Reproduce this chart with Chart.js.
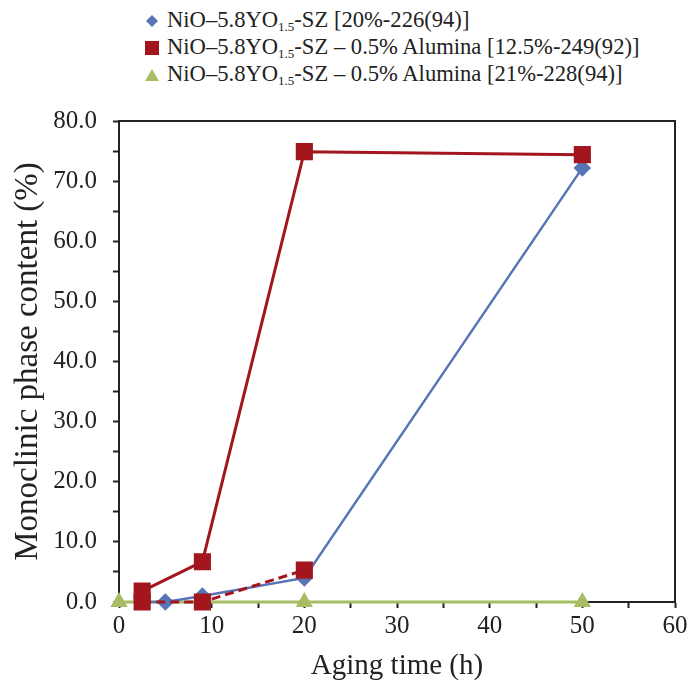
<!DOCTYPE html>
<html>
<head>
<meta charset="utf-8">
<script src="https://cdn.jsdelivr.net/npm/chart.js@4.4.1/dist/chart.umd.min.js"></script>
<style>
  body { margin: 0; background: #fff; font-family: "Liberation Serif", serif; }
  #legend { position: absolute; left: 145px; top: 6px; font-size: 22.6px; color: #222; z-index: 2; }
  #legend div { height: 27px; line-height: 27px; white-space: nowrap; }
  #legend svg { vertical-align: -1px; margin-right: 8px; }
  #legend sub { font-size: 13px; vertical-align: -4px; }
  #wrap { position: absolute; left: 0; top: 90px; }
</style>
</head>
<body>
<div id="legend"></div>
<div id="wrap"><canvas id="monoChart" width="692" height="594"></canvas></div>
<script>
// Aging time (h) and monoclinic content (%)
const blueTime = [2.5, 5, 9, 20, 50];
const blueContent = [0, 0, 1.0, 4.0, 72.2];

const redTime = [2.5, 9, 20, 50];
const redContent = [1.8, 6.7, 74.9, 74.4];

// second red sample (dashed, not in legend)
const redDashTime = [2.5, 9, 20];
const redDashContent = [0, 0, 5.3];

const greenTime = [0, 20, 50];
const greenContent = [0, 0, 0];

const legendLabels = [
  'NiO–5.8YO<sub>1.5</sub>-SZ [20%-226(94)]',
  'NiO–5.8YO<sub>1.5</sub>-SZ – 0.5% Alumina [12.5%-249(92)]',
  'NiO–5.8YO<sub>1.5</sub>-SZ – 0.5% Alumina [21%-228(94)]'
];

const blue = '#5874b8';
const red = '#a3161d';
const green = '#a6bd63';

function toPoints(xs, ys) {
  return xs.map((x, i) => ({ x: x, y: ys[i] }));
}

// legend with subscripts, built as html
const markers = [
  '<svg width="14" height="14"><polygon points="7,1 13,7 7,13 1,7" fill="' + blue + '"/></svg>',
  '<svg width="14" height="14"><rect x="0" y="0" width="14" height="14" fill="' + red + '"/></svg>',
  '<svg width="14" height="14"><polygon points="7,1 14,13 0,13" fill="' + green + '"/></svg>'
];
const legendEl = document.getElementById('legend');
legendLabels.forEach((txt, i) => {
  const row = document.createElement('div');
  row.innerHTML = markers[i] + txt;
  legendEl.appendChild(row);
});

// draws the box round the plot area
const frameBox = {
  id: 'frameBox',
  afterDraw(chart) {
    const a = chart.chartArea;
    const ctx = chart.ctx;
    ctx.save();
    ctx.strokeStyle = '#222';
    ctx.lineWidth = 2;
    ctx.beginPath();
    ctx.moveTo(a.left, a.top);
    ctx.lineTo(a.right, a.top);
    ctx.lineTo(a.right, a.bottom);
    ctx.stroke();
    ctx.restore();
  }
};

const serif = '"Liberation Serif", "Times New Roman", serif';

new Chart(document.getElementById('monoChart'), {
  type: 'line',
  data: {
    datasets: [
      {
        label: 'red',
        data: toPoints(redTime, redContent),
        borderColor: red,
        backgroundColor: red,
        borderWidth: 3,
        pointStyle: 'rect',
        pointRadius: 10,
        order: 0
      },
      {
        label: 'red dashed',
        data: toPoints(redDashTime, redDashContent),
        borderColor: red,
        backgroundColor: red,
        borderWidth: 3,
        borderDash: [9, 5],
        pointStyle: 'rect',
        pointRadius: 10,
        order: 1
      },
      {
        label: 'blue',
        data: toPoints(blueTime, blueContent),
        borderColor: blue,
        backgroundColor: blue,
        borderWidth: 2.5,
        pointStyle: 'rectRot',
        pointRadius: 7,
        order: 2
      },
      {
        label: 'green',
        data: toPoints(greenTime, greenContent),
        borderColor: green,
        backgroundColor: green,
        borderWidth: 3,
        pointStyle: 'triangle',
        pointRadius: 7,
        order: 3
      }
    ]
  },
  options: {
    responsive: false,
    animation: false,
    devicePixelRatio: 1,
    clip: false,
    layout: { padding: { top: 21, right: 17, left: 0, bottom: 0 } },
    plugins: {
      legend: { display: false },
      tooltip: { enabled: false }
    },
    scales: {
      x: {
        type: 'linear',
        min: 0,
        max: 60,
        afterFit: s => { s.height = 82; },
        ticks: {
          stepSize: 5,
          autoSkip: false,
          maxRotation: 0,
          padding: 3,
          color: '#222',
          font: { family: serif, size: 25 },
          callback: v => (v % 10 === 0 ? v : '')
        },
        grid: { drawOnChartArea: false, tickLength: 6, color: '#222', tickWidth: 2 },
        border: { color: '#222', width: 2 },
        title: {
          display: true,
          text: 'Aging time (h)',
          color: '#222',
          font: { family: serif, size: 29 },
          padding: { top: 0, bottom: 0 }
        }
      },
      y: {
        min: 0,
        max: 80,
        afterFit: s => { s.width = 119; },
        ticks: {
          stepSize: 5,
          autoSkip: false,
          padding: 16,
          color: '#222',
          font: { family: serif, size: 25 },
          callback: v => (v % 10 === 0 ? v.toFixed(1) : '')
        },
        grid: { drawOnChartArea: false, tickLength: 6, color: '#222', tickWidth: 2 },
        border: { color: '#222', width: 2 },
        title: {
          display: true,
          text: 'Monoclinic phase content (%)',
          color: '#222',
          font: { family: serif, size: 33 },
          padding: { top: 9, bottom: 0 }
        }
      }
    }
  },
  plugins: [frameBox]
});
</script>
</body>
</html>
